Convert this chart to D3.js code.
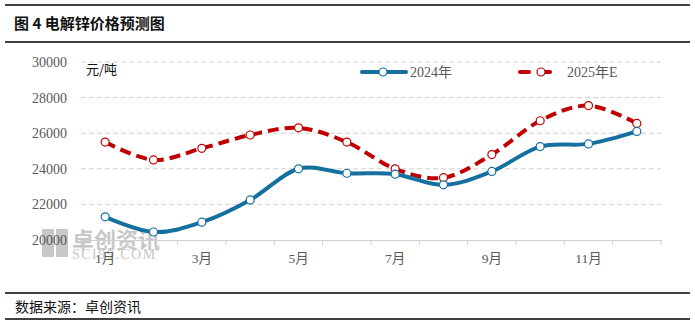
<!DOCTYPE html>
<html><head><meta charset="utf-8">
<script src="https://cdn.jsdelivr.net/npm/d3@7"></script>
<style>body{margin:0;background:#fff;}svg{display:block;}</style>
</head><body>
<script>
const months = ["1月","2月","3月","4月","5月","6月","7月","8月","9月","10月","11月","12月"];
const tickLabels = ["1月","3月","5月","7月","9月","11月"];
const s2024 = [21300,20450,21000,22250,24000,23750,23700,23100,23850,25250,25400,26100];
const s2025 = [25500,24500,25150,25900,26300,25500,24000,23500,24800,26700,27550,26550];
const yTicks = [20000,22000,24000,26000,28000,30000];
const seriesNames = ["2024年","2025年E"];

const W=695,H=325;
const svg=d3.select("body").append("svg").attr("width",W).attr("height",H);
const serif="'Liberation Serif','Noto Sans CJK SC',serif";
const cjk="'Noto Sans CJK SC',sans-serif";

// frame lines
[5,42,293,319].forEach(y=>svg.append("line").attr("x1",5).attr("x2",690).attr("y1",y).attr("y2",y).attr("stroke","#000").attr("stroke-width",1.3));
svg.append("text").attr("x",14).attr("y",29).attr("font-family",cjk).attr("font-size",15).attr("font-weight","bold").attr("fill","#111").text("图 4  电解锌价格预测图");
svg.append("text").attr("x",15).attr("y",312).attr("font-family",cjk).attr("font-size",14).attr("fill","#111").text("数据来源：卓创资讯");

const x=d3.scaleBand().domain(months).range([81,661]).padding(0);
const y=d3.scaleLinear().domain([20000,30000]).range([240,62]);
const cx=d=>x(d)+x.bandwidth()/2;

// watermark
const wm=svg.append("g").attr("fill","#c8c8c8");
wm.append("rect").attr("x",42).attr("y",229).attr("width",12).attr("height",28);
wm.append("rect").attr("x",56).attr("y",229).attr("width",12).attr("height",28);
wm.append("text").attr("x",72).attr("y",248).attr("font-family",cjk).attr("font-size",22).attr("font-weight","bold").text("卓创资讯");
wm.append("text").attr("x",72).attr("y",259).attr("font-family",serif).attr("font-size",14).attr("letter-spacing",1.5).text("SCI99.COM");

// grid
yTicks.slice(1).forEach(t=>svg.append("line").attr("x1",81).attr("x2",661).attr("y1",y(t)).attr("y2",y(t)).attr("stroke","#d0d0d0").attr("stroke-dasharray","5,3"));

// y axis labels
const ya=svg.append("g").attr("transform","translate(70,0)").call(d3.axisLeft(y).tickValues(yTicks).tickSize(0).tickFormat(d3.format("d")));
ya.select(".domain").remove();
ya.selectAll("text").attr("font-family",serif).attr("font-size",14).attr("fill","#595959").attr("dx",0);

// x axis
const xa=svg.append("g").attr("transform","translate(0,240)").call(d3.axisBottom(x).tickSize(0).tickFormat(d=>tickLabels.includes(d)?d:""));
xa.select(".domain").attr("stroke","#d0d0d0");
xa.selectAll("text").attr("font-family",serif).attr("font-size",13.5).attr("fill","#595959").attr("dy","1.5em");
const bounds=months.map(m=>x(m)).concat([661]);
bounds.forEach(b=>svg.append("line").attr("x1",b).attr("x2",b).attr("y1",240).attr("y2",245).attr("stroke","#d0d0d0"));

svg.append("text").attr("x",86).attr("y",74).attr("font-family",cjk).attr("font-size",13).attr("fill","#111").text("元/吨");

const line=d3.line().x((d,i)=>cx(months[i])).y(d=>y(d)).curve(d3.curveCatmullRom.alpha(0));
const blue="#1570a0", red="#c00000";
svg.append("path").datum(s2025).attr("d",line).attr("fill","none").attr("stroke",red).attr("stroke-width",4).attr("stroke-dasharray","11,6");
svg.append("path").datum(s2024).attr("d",line).attr("fill","none").attr("stroke",blue).attr("stroke-width",4);
[[s2025,red],[s2024,blue]].forEach(([s,c])=>{
  svg.append("g").selectAll("circle").data(s).join("circle").attr("cx",(d,i)=>cx(months[i])).attr("cy",d=>y(d)).attr("r",4).attr("fill","#fff").attr("stroke",c).attr("stroke-width",1.2);
});

// legend
const lg=svg.append("g");
lg.append("line").attr("x1",362).attr("x2",406).attr("y1",72).attr("y2",72).attr("stroke",blue).attr("stroke-width",4).attr("stroke-linecap","round");
lg.append("circle").attr("cx",383).attr("cy",72).attr("r",4).attr("fill","#fff").attr("stroke",blue).attr("stroke-width",1.2);
lg.append("text").attr("x",410).attr("y",77).attr("font-family",serif).attr("font-size",14).attr("fill","#595959").text(seriesNames[0]);
lg.append("line").attr("x1",520).attr("x2",562).attr("y1",72).attr("y2",72).attr("stroke",red).attr("stroke-width",4).attr("stroke-dasharray","9,12").attr("stroke-linecap","round");
lg.append("circle").attr("cx",541).attr("cy",72).attr("r",4).attr("fill","#fff").attr("stroke",red).attr("stroke-width",1.2);
lg.append("text").attr("x",567).attr("y",77).attr("font-family",serif).attr("font-size",14).attr("fill","#595959").text(seriesNames[1]);
</script>
</body></html>
